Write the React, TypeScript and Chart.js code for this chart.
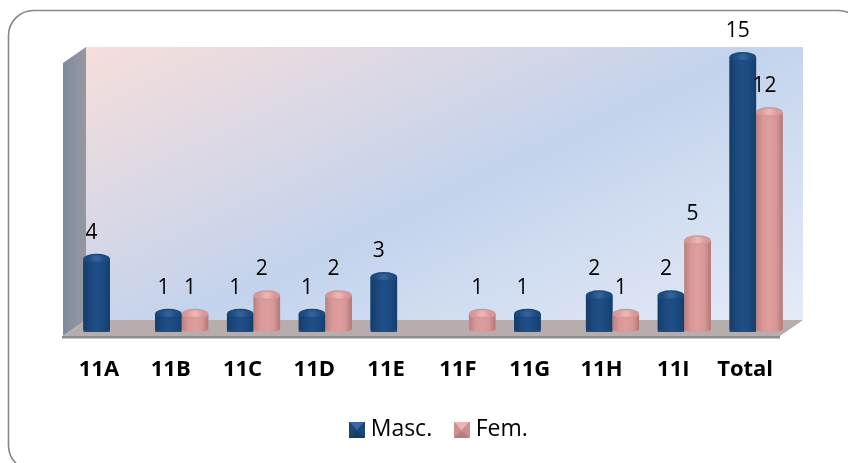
import React, { useEffect, useRef } from "react";
import { Chart, registerables } from "chart.js";

Chart.register(...registerables);

const categories = ["11A", "11B", "11C", "11D", "11E", "11F", "11G", "11H", "11I", "Total"];
const masc = [4, 1, 1, 1, 3, null, 1, 2, 2, 15];
const fem = [null, 1, 2, 2, null, 1, null, 1, 5, 12];
const seriesNames = ["Masc.", "Fem."];

const FONT = "'Open Sans', Lato, sans-serif";
const W = 848;
const H = 463;

function pyramid(light: string, mid: string, dark: string, side: string) {
  const c = document.createElement("canvas");
  c.width = 16;
  c.height = 16;
  const g = c.getContext("2d")!;
  g.fillStyle = mid;
  g.fillRect(0, 0, 16, 16);
  const tri = (pts: number[][], col: string) => {
    g.fillStyle = col;
    g.beginPath();
    pts.forEach((p, i) => (i ? g.lineTo(p[0], p[1]) : g.moveTo(p[0], p[1])));
    g.closePath();
    g.fill();
  };
  tri([[2, 2], [14, 2], [8, 9]], light);
  tri([[0, 0], [16, 0], [14, 2], [2, 2]], light);
  tri([[0, 16], [16, 16], [8, 9]], dark);
  tri([[0, 0], [0, 16], [8, 9], [2, 2]], side);
  tri([[16, 0], [16, 16], [8, 9], [14, 2]], side);
  return c;
}

function cylinderFill(ctx: CanvasRenderingContext2D, x0: number, x1: number, stops: string[]) {
  const g = ctx.createLinearGradient(x0, 0, x1, 0);
  stops.forEach((s, i) => g.addColorStop(i / (stops.length - 1), s));
  return g;
}

const palettes = [
  {
    body: ["#143c6a", "#1c487c", "#1f4f88", "#1c4a7f", "#153d6c"],
    cap: "#1b4a80",
    capLight: "#356499",
  },
  {
    body: ["#b88080", "#d99797", "#df9e9e", "#d99898", "#b07878"],
    cap: "#d59797",
    capLight: "#efb6b6",
  },
];

const scenery = {
  id: "scenery",
  afterLayout(chart: any) {
    if (chart.legend) {
      chart.legend.left += 8;
      chart.legend.right += 8;
    }
  },
  beforeDatasetsDraw(chart: any) {
    const { ctx } = chart;
    ctx.save();
    ctx.strokeStyle = "#868686";
    ctx.lineWidth = 1.6;
    ctx.beginPath();
    ctx.roundRect(8.5, 10.5, 855, 460, 25);
    ctx.stroke();

    const backL = 86, backR = 803, backT = 47, backB = 320;
    const frontL = 63, frontR = 780, sideT = 63, floorB = 336;
    const wall = ctx.createLinearGradient(86, 47, 321, 547);
    wall.addColorStop(0, "#f6dedb");
    wall.addColorStop(0.52, "#c3d3ed");
    wall.addColorStop(1, "#e5ebf7");
    ctx.fillStyle = wall;
    ctx.fillRect(backL, backT, backR - backL, backB - backT);
    const side = ctx.createLinearGradient(frontL, 0, backL, 0);
    side.addColorStop(0, "#7f8ba0");
    side.addColorStop(1, "#96989f");
    ctx.fillStyle = side;
    ctx.beginPath();
    ctx.moveTo(backL, backT);
    ctx.lineTo(backL, backB);
    ctx.lineTo(frontL, floorB);
    ctx.lineTo(frontL, sideT);
    ctx.closePath();
    ctx.fill();
    ctx.fillStyle = "#b7adad";
    ctx.beginPath();
    ctx.moveTo(backL, backB);
    ctx.lineTo(backR, backB);
    ctx.lineTo(frontR, floorB);
    ctx.lineTo(frontL, floorB);
    ctx.closePath();
    ctx.fill();
    ctx.fillStyle = "#8c8c8c";
    ctx.fillRect(frontL - 1, floorB, frontR - frontL + 1, 2.5);
    ctx.restore();
  },
};

const cylinders = {
  id: "cylinders",
  afterDatasetsDraw(chart: any) {
    const { ctx } = chart;
    chart.data.datasets.forEach((ds: any, di: number) => {
      const meta = chart.getDatasetMeta(di);
      const pal = palettes[di];
      meta.data.forEach((bar: any, i: number) => {
        const v = ds.data[i];
        if (v === null || v === undefined) return;
        const { x, y, base, width } = bar.getProps(["x", "y", "base", "width"], true);
        const l = x - width / 2;
        const r = x + width / 2;
        const ry = 5;
        ctx.save();
        ctx.fillStyle = cylinderFill(ctx, l, r, pal.body);
        ctx.beginPath();
        ctx.moveTo(l, y);
        ctx.lineTo(l, base - 3);
        ctx.ellipse(x, base - 3, width / 2, 3, 0, Math.PI, 0, true);
        ctx.lineTo(r, y);
        ctx.closePath();
        ctx.fill();
        ctx.fillStyle = pal.cap;
        ctx.beginPath();
        ctx.ellipse(x, y, width / 2, ry, 0, 0, Math.PI * 2);
        ctx.fill();
        const cap = ctx.createRadialGradient(x, y, 1, x, y, width / 3);
        cap.addColorStop(0, pal.capLight);
        cap.addColorStop(1, pal.cap);
        ctx.fillStyle = cap;
        ctx.beginPath();
        ctx.ellipse(x, y, width / 2.6, ry - 1.5, 0, 0, Math.PI * 2);
        ctx.fill();
        ctx.restore();
      });
    });
  },
  afterDraw(chart: any) {
    const { ctx } = chart;
    ctx.save();
    ctx.fillStyle = "#000";
    ctx.font = `21px ${FONT}`;
    ctx.textAlign = "center";
    ctx.textBaseline = "middle";
    chart.data.datasets.forEach((ds: any, di: number) => {
      chart.getDatasetMeta(di).data.forEach((bar: any, i: number) => {
        const v = ds.data[i];
        if (v === null || v === undefined) return;
        const { x, y } = bar.getProps(["x", "y"], true);
        ctx.fillText(String(v), x - 5, y - 26);
      });
    });
    ctx.restore();
  },
};

export default function App() {
  const ref = useRef<HTMLCanvasElement>(null);
  useEffect(() => {
    document.body.style.margin = "0";
    document.body.style.background = "#fff";
    const ctx = ref.current!.getContext("2d")!;
    const markers = [
      pyramid("#3a6aa3", "#1f4f88", "#163c68", "#1b4678"),
      pyramid("#eeb6b6", "#d99a9a", "#b77c7c", "#cc8e8e"),
    ];
    const chart = new Chart(ctx, {
      type: "bar",
      data: {
        labels: categories,
        datasets: [
          { label: seriesNames[0], data: masc, backgroundColor: "#1f4f88", pointStyle: markers[0] as any },
          { label: seriesNames[1], data: fem, backgroundColor: "#d99a9a", pointStyle: markers[1] as any },
        ],
      },
      options: {
        responsive: false,
        animation: false,
        layout: { padding: { left: 74, right: 56, top: 57, bottom: 12 } },
        datasets: { bar: { barPercentage: 1, categoryPercentage: 0.74 } },
        scales: {
          x: {
            grid: { display: false },
            border: { display: false },
            afterFit: (s: any) => {
              s.height = 59;
            },
            ticks: {
              color: "#000",
              padding: 17,
              labelOffset: -11,
              maxRotation: 0,
              autoSkip: false,
              font: { family: FONT, size: 22, weight: "bold" },
            },
          },
          y: { display: false, min: 0, max: 15 },
        },
        plugins: {
          tooltip: { enabled: false },
          legend: {
            position: "bottom",
            labels: {
              usePointStyle: true,
              pointStyleWidth: 5,
              color: "#000",
              padding: 27,
              font: { family: FONT, size: 23 },
            },
          },
        },
      } as any,
      plugins: [scenery, cylinders],
    });
    return () => chart.destroy();
  }, []);
  return <canvas ref={ref} width={W} height={H} style={{ display: "block" }} />;
}
